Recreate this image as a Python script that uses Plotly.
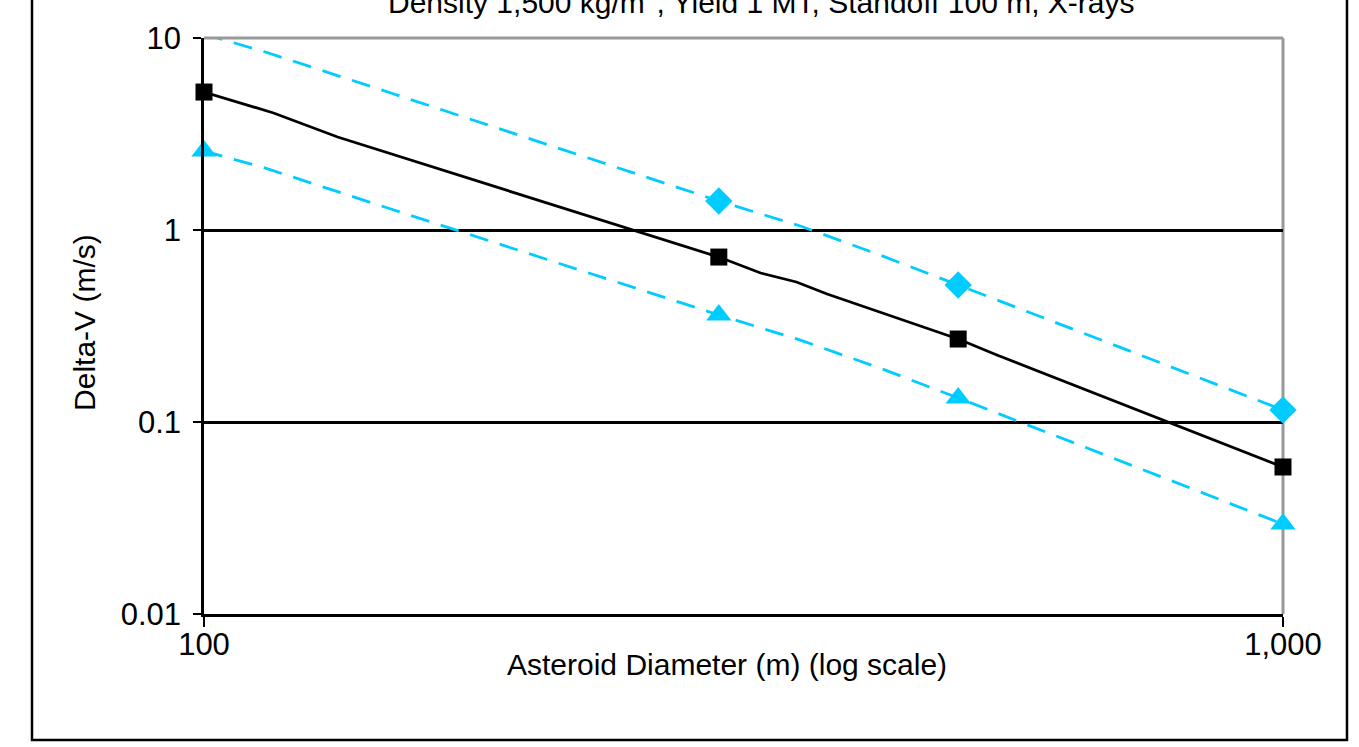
import plotly.graph_objects as go

# ---- data (log-log chart) ----
title_text = "Density 1,500 kg/m<sup>3</sup>, Yield 1 MT, Standoff 100 m, X-rays"

mid_x = [100, 116, 133, 300, 328, 354, 378, 500, 543, 1000]
mid_y = [5.23, 4.07, 3.05, 0.723, 0.597, 0.536, 0.464, 0.2705, 0.2234, 0.0583]

upper_x = [100, 114, 149, 300, 357, 423, 500, 1000]
upper_y = [10.49, 8.45, 5.17, 1.416, 1.049, 0.741, 0.517, 0.1155]

lower_x = [100, 114, 149, 300, 357, 423, 500, 1000]
lower_y = [2.58, 2.10, 1.286, 0.361, 0.267, 0.191, 0.1334, 0.0294]

mid_marker_x = [100, 300, 500, 1000]
upper_marker_x = [300, 500, 1000]
lower_marker_x = [100, 300, 500, 1000]

x_tickvals = [100, 1000]
x_ticktext = ["100", "1,000"]
y_tickvals = [0.01, 0.1, 1, 10]
y_ticktext = ["0.01", "0.1", "1", "10"]

x_title = "Asteroid Diameter (m) (log scale)"
y_title = "Delta-V (m/s)"

CYAN = "#00CCFF"
FONT = "Liberation Sans, Arial, Helvetica, sans-serif"


def pick(xs, ys, keep):
    px, py = [], []
    for a, b in zip(xs, ys):
        if a in keep:
            px.append(a)
            py.append(b)
    return px, py


fig = go.Figure()

# lines
fig.add_trace(go.Scatter(x=upper_x, y=upper_y, mode="lines",
                         line=dict(color=CYAN, width=2.8, dash="19px,12px"),
                         showlegend=False, hoverinfo="skip"))
fig.add_trace(go.Scatter(x=lower_x, y=lower_y, mode="lines",
                         line=dict(color=CYAN, width=2.8, dash="19px,12px"),
                         showlegend=False, hoverinfo="skip"))
fig.add_trace(go.Scatter(x=mid_x, y=mid_y, mode="lines",
                         line=dict(color="black", width=2.8),
                         showlegend=False, hoverinfo="skip"))

# markers
ux, uy = pick(upper_x, upper_y, upper_marker_x)
fig.add_trace(go.Scatter(x=ux, y=uy, mode="markers", cliponaxis=False,
                         marker=dict(symbol="diamond", size=21, color=CYAN),
                         showlegend=False))
lx, ly = pick(lower_x, lower_y, lower_marker_x)
fig.add_trace(go.Scatter(x=lx, y=ly, mode="markers", cliponaxis=False,
                         marker=dict(symbol="triangle-up", size=22, color=CYAN),
                         showlegend=False))
mx, my = pick(mid_x, mid_y, mid_marker_x)
fig.add_trace(go.Scatter(x=mx, y=my, mode="markers", cliponaxis=False,
                         marker=dict(symbol="square", size=17, color="black"),
                         showlegend=False))

fig.update_xaxes(type="log", range=[2, 3], tickvals=x_tickvals, ticktext=x_ticktext,
                 showgrid=False, zeroline=False,
                 showline=True, linecolor="black", linewidth=2.5,
                 ticks="outside", ticklen=10, tickwidth=2, tickcolor="black",
                 ticklabelstandoff=-9,
                 tickfont=dict(family=FONT, size=31, color="black"))
fig.update_yaxes(type="log", range=[-2, 1], tickvals=y_tickvals, ticktext=y_ticktext,
                 showgrid=True, gridcolor="black", gridwidth=2.5, zeroline=False,
                 showline=True, linecolor="black", linewidth=2.5,
                 ticks="outside", ticklen=8, tickwidth=2, tickcolor="black",
                 ticklabelstandoff=6,
                 tickfont=dict(family=FONT, size=31, color="black"))

fig.update_layout(
    width=1359, height=747,
    margin=dict(l=204, r=76, t=38, b=133),
    paper_bgcolor="white", plot_bgcolor="white",
    font=dict(family=FONT, color="black"),
    shapes=[
        # grey frame top and right of plot area
        dict(type="line", xref="paper", yref="paper", x0=0, x1=1, y0=1, y1=1,
             line=dict(color="#999999", width=3), layer="above"),
        dict(type="line", xref="paper", yref="paper", x0=1, x1=1, y0=0, y1=1,
             line=dict(color="#999999", width=3), layer="below"),
        # outer chart border (top is cut off)
        dict(type="rect", xref="paper", yref="paper",
             x0=-0.1594, x1=1.0593, y0=-0.2188, y1=1.3,
             line=dict(color="black", width=2.5)),
    ],
    annotations=[
        dict(text=title_text, xref="paper", yref="paper", x=0.517, y=1.0295,
             xanchor="center", yanchor="bottom", showarrow=False,
             font=dict(family=FONT, size=30, color="black")),
        dict(text=x_title, xref="paper", yref="paper", x=0.4847, y=-0.0885,
             xanchor="center", yanchor="middle", showarrow=False,
             font=dict(family=FONT, size=30, color="black")),
        dict(text=y_title, xref="paper", yref="paper", x=-0.1103, y=0.507,
             xanchor="center", yanchor="middle", showarrow=False, textangle=-90,
             font=dict(family=FONT, size=30, color="black")),
    ],
)

fig.write_html("out.html", config={"displayModeBar": False},
               post_script="document.body.style.margin='0';")
